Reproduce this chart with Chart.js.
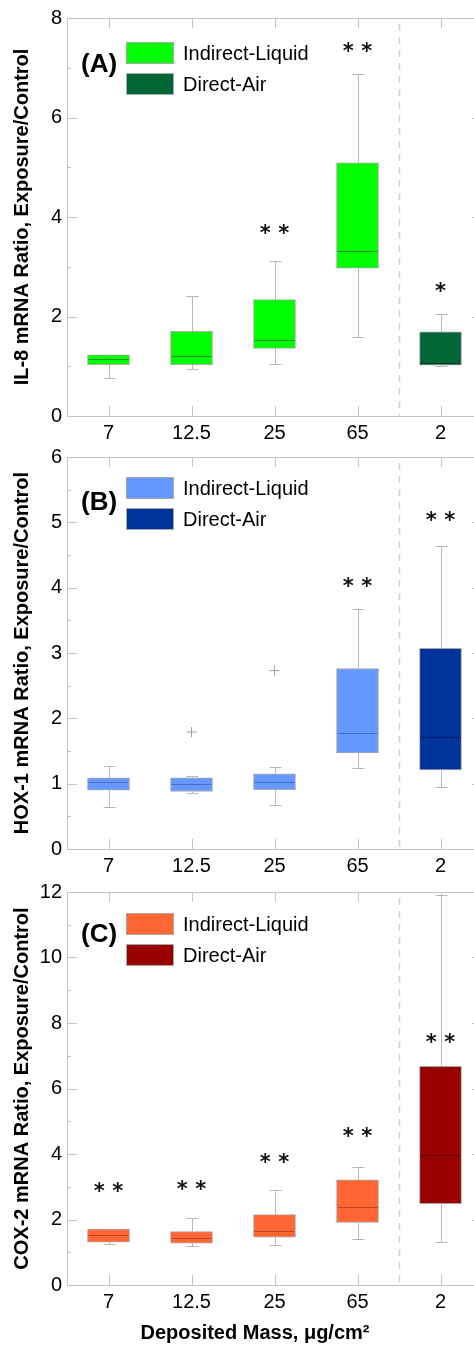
<!DOCTYPE html>
<html>
<head>
<meta charset="utf-8">
<script src="https://cdn.jsdelivr.net/npm/chart.js@4.4.1/dist/chart.umd.min.js"></script>
<style>
  html, body { margin: 0; padding: 0; background: #fff; overflow: hidden; width: 474px; height: 1353px; }
  canvas { position: absolute; left: 0; }
</style>
</head>
<body>
<canvas id="chartA" width="490" height="445" style="top:0px"></canvas>
<canvas id="chartB" width="490" height="440" style="top:440px"></canvas>
<canvas id="chartC" width="490" height="478" style="top:875px"></canvas>
<script>
// ========== DATA ========== //
const categories = ["7", "12.5", "25", "65", "2"];
const exposure = ["Indirect-Liquid", "Indirect-Liquid", "Indirect-Liquid", "Indirect-Liquid", "Direct-Air"];

// (A) IL-8
const il8Min = [0.77, 0.95, 1.05, 1.58, 1.01];
const il8Q1  = [1.03, 1.03, 1.36, 2.97, 1.02];
const il8Med = [1.15, 1.20, 1.52, 3.31, 1.07];
const il8Q3  = [1.23, 1.70, 2.34, 5.09, 1.69];
const il8Max = [1.23, 2.42, 3.12, 6.87, 2.06];
const il8Outliers = [null, null, null, null, null];
const il8Sig  = ["", "", "* *", "* *", "*"];
const il8SigY = [null, null, 3.72, 7.38, 2.56];
const il8Ticks = [0, 2, 4, 6, 8];

// (B) HOX-1
const hoxMin = [0.65, 0.85, 0.67, 1.24, 0.95];
const hoxQ1  = [0.90, 0.88, 0.91, 1.47, 1.21];
const hoxMed = [1.02, 1.00, 1.02, 1.77, 1.71];
const hoxQ3  = [1.09, 1.09, 1.15, 2.76, 3.07];
const hoxMax = [1.27, 1.11, 1.25, 3.67, 4.64];
const hoxOutliers = [null, 1.79, 2.73, null, null];
const hoxSig  = ["", "", "", "* *", "* *"];
const hoxSigY = [null, null, null, 4.06, 5.07];
const hoxTicks = [0, 1, 2, 3, 4, 5, 6];

// (C) COX-2
const coxMin = [1.24, 1.19, 1.22, 1.41, 1.31];
const coxQ1  = [1.31, 1.28, 1.46, 1.91, 2.48];
const coxMed = [1.53, 1.42, 1.65, 2.39, 3.98];
const coxQ3  = [1.71, 1.63, 2.15, 3.21, 6.68];
const coxMax = [1.71, 2.05, 2.90, 3.61, 11.92];
const coxOutliers = [null, null, null, null, null];
const coxSig  = ["* *", "* *", "* *", "* *", "* *"];
const coxSigY = [2.94, 3.00, 3.83, 4.61, 7.50];
const coxTicks = [0, 2, 4, 6, 8, 10, 12];

// ========== STYLE ========== //
const FONT = "'Liberation Sans', Arial, sans-serif";
const AXIS = "#c4c4c4";
const WHISKER = "#b8b8b8";
const BOXLINE = "#a9a9a9";

// ========== EXTRA DRAWING (whiskers, medians, frame, legend) ========== //
function extras(p) {
  return {
    id: "boxExtras",
    beforeDatasetsDraw(chart) {
      const ctx = chart.ctx, x = chart.scales.x, y = chart.scales.y, a = chart.chartArea;
      ctx.save();
      ctx.lineWidth = 1;

      // frame
      ctx.strokeStyle = AXIS;
      ctx.beginPath();
      ctx.moveTo(a.left + 0.5, a.top + 0.5); ctx.lineTo(a.left + 0.5, a.bottom + 0.5);
      ctx.lineTo(a.right, a.bottom + 0.5);
      ctx.moveTo(a.left, a.top + 0.5); ctx.lineTo(a.right, a.top + 0.5);
      ctx.moveTo(a.right - 0.5, a.top); ctx.lineTo(a.right - 0.5, a.bottom);
      ctx.stroke();

      // x ticks, inward top and bottom
      ctx.beginPath();
      categories.forEach((c, i) => {
        const px = Math.round(x.getPixelForValue(i)) + 0.5;
        ctx.moveTo(px, a.bottom); ctx.lineTo(px, a.bottom - 10);
        ctx.moveTo(px, a.top); ctx.lineTo(px, a.top + 10);
      });
      // y ticks, major + minor, both sides
      const t = p.ticks;
      for (let k = 0; k < t.length; k++) {
        const py = Math.round(y.getPixelForValue(t[k])) + 0.5;
        ctx.moveTo(a.left, py); ctx.lineTo(a.left + 10, py);
        ctx.moveTo(a.right, py); ctx.lineTo(a.right - 10, py);
        if (k < t.length - 1) {
          const my = Math.round(y.getPixelForValue((t[k] + t[k + 1]) / 2)) + 0.5;
          ctx.moveTo(a.left, my); ctx.lineTo(a.left + 4, my);
          ctx.moveTo(a.right, my); ctx.lineTo(a.right - 4, my);
        }
      }
      ctx.stroke();

      // dashed separator between liquid and air groups
      const sx = Math.round((x.getPixelForValue(3) + x.getPixelForValue(4)) / 2) + 0.5;
      ctx.strokeStyle = "#d4d4d4";
      ctx.lineWidth = 1.5;
      ctx.setLineDash([7, 6]);
      ctx.beginPath();
      ctx.moveTo(sx, a.top + 6); ctx.lineTo(sx, a.bottom);
      ctx.stroke();
      ctx.setLineDash([]);

      // whiskers
      ctx.strokeStyle = WHISKER;
      ctx.lineWidth = 1;
      ctx.beginPath();
      categories.forEach((c, i) => {
        const cx = Math.round(x.getPixelForValue(i)) + 0.5;
        const top = Math.round(y.getPixelForValue(p.max[i])) + 0.5;
        const bot = Math.round(y.getPixelForValue(p.min[i])) + 0.5;
        const q3 = y.getPixelForValue(p.q3[i]), q1 = y.getPixelForValue(p.q1[i]);
        ctx.moveTo(cx, top); ctx.lineTo(cx, q3);
        ctx.moveTo(cx, q1); ctx.lineTo(cx, bot);
        ctx.moveTo(cx - 6, top); ctx.lineTo(cx + 6, top);
        ctx.moveTo(cx - 6, bot); ctx.lineTo(cx + 6, bot);
      });
      ctx.stroke();
      ctx.restore();
    },
    afterDatasetsDraw(chart) {
      const ctx = chart.ctx, x = chart.scales.x, y = chart.scales.y, a = chart.chartArea;
      ctx.save();

      // medians
      [0, 1].forEach(d => {
        const meta = chart.getDatasetMeta(d);
        meta.data.forEach((bar, i) => {
          if (chart.data.datasets[d].data[i] == null) return;
          const my = Math.round(y.getPixelForValue(p.med[i])) + 0.5;
          ctx.strokeStyle = p.medColors[d];
          ctx.lineWidth = 1;
          ctx.beginPath();
          ctx.moveTo(bar.x - bar.width / 2 + 1, my);
          ctx.lineTo(bar.x + bar.width / 2 - 1, my);
          ctx.stroke();
        });
      });

      // significance marks (six-armed asterisks)
      ctx.fillStyle = "#111";
      ctx.font = "bold 21px 'DejaVu Sans', sans-serif";
      ctx.textAlign = "center";
      ctx.textBaseline = "middle";
      categories.forEach((c, i) => {
        if (!p.sig[i]) return;
        ctx.fillText(p.sig[i], x.getPixelForValue(i), y.getPixelForValue(p.sigY[i]) + 4);
      });

      // panel tag
      ctx.textAlign = "left";
      ctx.fillStyle = "#000";
      ctx.font = "bold 26px " + FONT;
      ctx.fillText(p.tag, a.left + 14, a.top + p.tagTop);

      // legend
      ctx.font = "20px " + FONT;
      [0, 1].forEach(d => {
        const ds = chart.data.datasets[d];
        const by = a.top + p.legendTop + d * 31;
        ctx.fillStyle = ds.backgroundColor;
        ctx.fillRect(a.left + 59, by, 48, 22);
        ctx.strokeStyle = BOXLINE;
        ctx.lineWidth = 1;
        ctx.strokeRect(a.left + 59.5, by + 0.5, 47, 21);
        ctx.fillStyle = "#000";
        ctx.fillText(ds.label, a.left + 116, by + 12);
      });

      // x axis title (bottom panel only)
      if (p.xTitle) {
        ctx.font = "bold 20px " + FONT;
        ctx.textAlign = "center";
        ctx.textBaseline = "alphabetic";
        ctx.fillText(p.xTitle, 255, a.bottom + 54);
      }
      ctx.restore();
    }
  };
}

// ========== CHART BUILDER ========== //
function makeChart(id, p) {
  const liquid = categories.map((c, i) => exposure[i] === "Indirect-Liquid" ? [p.q1[i], p.q3[i]] : null);
  const air = categories.map((c, i) => exposure[i] === "Direct-Air" ? [p.q1[i], p.q3[i]] : null);

  return new Chart(document.getElementById(id), {
    type: "bar",
    data: {
      labels: categories,
      datasets: [
        { label: "Indirect-Liquid", data: liquid, backgroundColor: p.colors[0], borderColor: BOXLINE,
          borderWidth: 1, borderSkipped: false, barThickness: 42, grouped: false },
        { label: "Direct-Air", data: air, backgroundColor: p.colors[1], borderColor: BOXLINE,
          borderWidth: 1, borderSkipped: false, barThickness: 42, grouped: false },
        { type: "line", label: "outliers", data: p.outliers, showLine: false, pointStyle: "cross",
          pointRadius: 5, pointBorderColor: "#a0a0a0", pointBorderWidth: 1, borderColor: "#a0a0a0" }
      ]
    },
    options: {
      responsive: false,
      animation: false,
      layout: { padding: { top: p.padTop, right: 8, left: 0, bottom: 0 } },
      plugins: { legend: { display: false }, tooltip: { enabled: false } },
      scales: {
        x: {
          offset: true,
          grid: { display: false, drawTicks: false },
          border: { display: false },
          ticks: { color: "#000", font: { family: FONT, size: 20 }, padding: 5, maxRotation: 0, autoSkip: false },
          afterFit: s => { s.height = p.xAxisHeight; }
        },
        y: {
          min: 0,
          max: p.ticks[p.ticks.length - 1],
          grid: { display: false, drawTicks: false },
          border: { display: false },
          ticks: { stepSize: p.ticks[1] - p.ticks[0], color: "#000", font: { family: FONT, size: 20 }, padding: 5 },
          title: { display: true, text: p.yTitle, color: "#000", font: { family: FONT, size: 20, weight: "bold" },
                   padding: { top: 10, bottom: 0 } },
          afterFit: s => { s.width = 67; }
        }
      }
    },
    plugins: [extras(p)]
  });
}

makeChart("chartA", {
  min: il8Min, q1: il8Q1, med: il8Med, q3: il8Q3, max: il8Max, outliers: il8Outliers,
  sig: il8Sig, sigY: il8SigY, ticks: il8Ticks,
  colors: ["#00ff00", "#006633"], medColors: ["#1f8f1f", "#003d1f"],
  yTitle: "IL-8 mRNA Ratio, Exposure/Control", tag: "(A)",
  padTop: 18, xAxisHeight: 29, legendTop: 24, tagTop: 47
});

makeChart("chartB", {
  min: hoxMin, q1: hoxQ1, med: hoxMed, q3: hoxQ3, max: hoxMax, outliers: hoxOutliers,
  sig: hoxSig, sigY: hoxSigY, ticks: hoxTicks,
  colors: ["#6699ff", "#003399"], medColors: ["#4a6fbf", "#001a66"],
  yTitle: "HOX-1 mRNA Ratio, Exposure/Control", tag: "(B)",
  padTop: 12, xAxisHeight: 31, legendTop: 20, tagTop: 46
});

makeChart("chartC", {
  min: coxMin, q1: coxQ1, med: coxMed, q3: coxQ3, max: coxMax, outliers: coxOutliers,
  sig: coxSig, sigY: coxSigY, ticks: coxTicks,
  colors: ["#ff6633", "#990000"], medColors: ["#b8461f", "#5e0000"],
  yTitle: "COX-2 mRNA Ratio, Exposure/Control", tag: "(C)",
  padTop: 13, xAxisHeight: 68, legendTop: 21, tagTop: 43,
  xTitle: "Deposited Mass, \u03bcg/cm\u00b2"
});
</script>
</body>
</html>
